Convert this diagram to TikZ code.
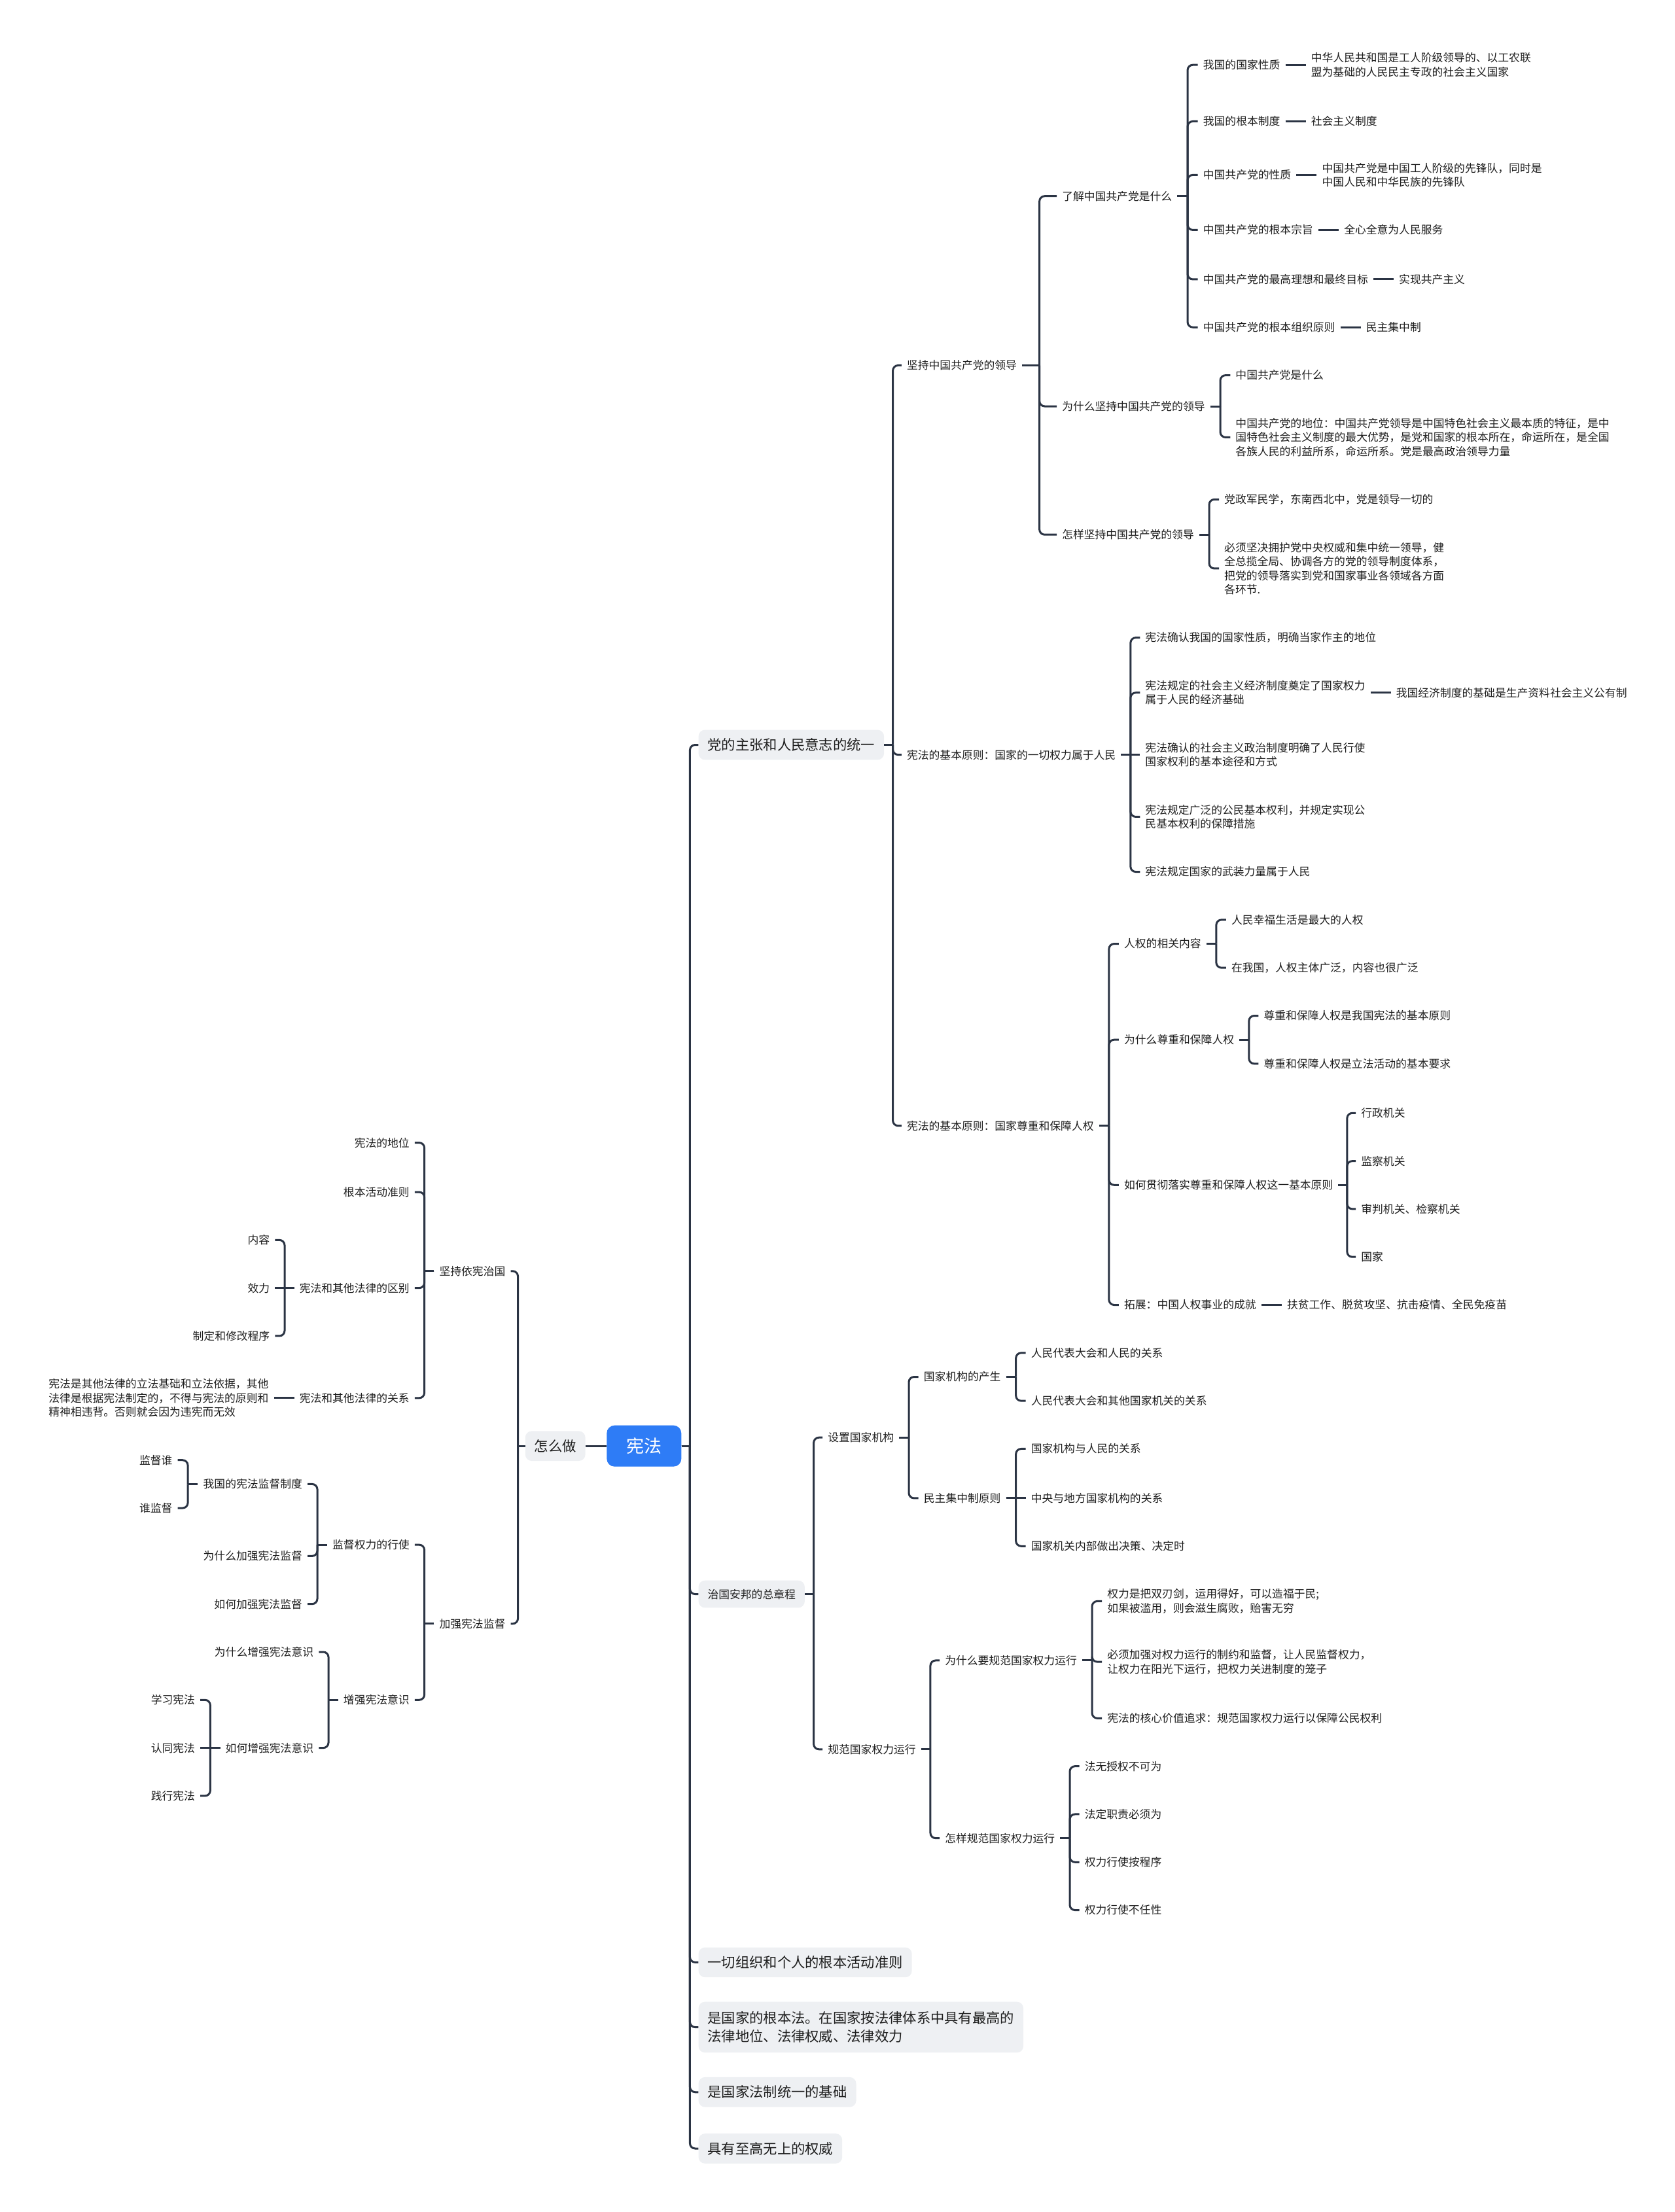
\documentclass[tikz,border=0pt]{standalone}
\usepackage{fontspec}
\usepackage{xcolor}
\setmainfont{Noto Sans CJK SC}
\usetikzlibrary{positioning}

\definecolor{linkc}{HTML}{2B3444}
\definecolor{boxc}{HTML}{EEF0F3}
\definecolor{rootc}{HTML}{2E7CF6}
\definecolor{inkc}{HTML}{1E1E1E}

% one link from the bar to a child: straight if level, else with a rounded bend
\newcommand\twig[2]{%
  \path (#1); \pgfgetlastxy{\bx}{\by}%
  \path (#2); \pgfgetlastxy{\cx}{\cy}%
  \pgfmathparse{abs(\by-\cy)<0.5 ? 1 : 0}%
  \ifnum\pgfmathresult=1
    \draw[link] (#1) -- (#2);
  \else
    \draw[link] (#1) |- (#2);
  \fi}
% children to the right / to the left of a node
\newcommand\kidsR[2]{%
  \foreach \k in {#2}{%
    \path (#1.east) -- (#1.east -| \k.west) coordinate[pos=.5] (bar);
    \draw[link] (#1.east) -- (bar);
    \twig{bar}{\k.west}
  }}
\newcommand\kidsL[2]{%
  \foreach \k in {#2}{%
    \path (#1.west) -- (#1.west -| \k.east) coordinate[pos=.5] (bar);
    \draw[link] (#1.west) -- (bar);
    \twig{bar}{\k.east}
  }}

\begin{document}
\begin{tikzpicture}[x=2.1565pt, y=-2.1565pt,
  txt/.style={font=\fontsize{16.8}{21.5}\selectfont, text=inkc, inner xsep=8pt, inner ysep=3pt, align=left},
  bigbox/.style={fill=boxc, rounded corners=10pt, font=\fontsize{21.3}{28}\selectfont, text=inkc, inner xsep=14pt, inner ysep=13pt, align=left},
  rootbox/.style={fill=rootc, rounded corners=12pt, font=\fontsize{27}{32}\selectfont, text=white, minimum width=114pt, minimum height=63pt},
  link/.style={draw=linkc, line width=3pt, rounded corners=8pt}]
     \useasboundingbox (0,0) rectangle (1187,1568);

     \node[rootbox] (root) at (456.5,1025) {宪法};
     \node[bigbox, anchor=east] (how) at (415,1025) {怎么做};

     % right side
     \node[bigbox, anchor=west] (unity) at (495,528) {党的主张和人民意志的统一};
     \node[bigbox, anchor=west, font=\fontsize{16.8}{21.5}\selectfont] (charter) at (495,1130) {治国安邦的总章程};
     \node[bigbox, anchor=west] (norm) at (495,1391) {一切组织和个人的根本活动准则};
     \node[bigbox, anchor=west, inner ysep=15pt] (basic) at (495,1437) {是国家的根本法。在国家按法律体系中具有最高的\\法律地位、法律权威、法律效力};
     \node[bigbox, anchor=west] (found) at (495,1483) {是国家法制统一的基础};
     \node[bigbox, anchor=west] (auth) at (495,1523) {具有至高无上的权威};

     \node[txt, anchor=west] (lead) at (639,259) {坚持中国共产党的领导};
     \node[txt, anchor=west] (power) at (639,535) {宪法的基本原则：国家的一切权力属于人民};
     \node[txt, anchor=west] (rights) at (639,798) {宪法的基本原则：国家尊重和保障人权};

     \node[txt, anchor=west] (what) at (749,139) {了解中国共产党是什么};
     \node[txt, anchor=west] (why) at (749,288) {为什么坚持中国共产党的领导};
     \node[txt, anchor=west] (how2) at (749,379) {怎样坚持中国共产党的领导};

     \node[txt, anchor=west] (w1) at (849,46) {我国的国家性质};
     \node[txt, anchor=west] (w2) at (849,86) {我国的根本制度};
     \node[txt, anchor=west] (w3) at (849,124) {中国共产党的性质};
     \node[txt, anchor=west] (w4) at (849,163) {中国共产党的根本宗旨};
     \node[txt, anchor=west] (w5) at (849,198) {中国共产党的最高理想和最终目标};
     \node[txt, anchor=west] (w6) at (849,232) {中国共产党的根本组织原则};
     \node[txt, right=31pt of w1] (w1a) {中华人民共和国是工人阶级领导的、以工农联\\盟为基础的人民民主专政的社会主义国家};
     \node[txt, right=31pt of w2] (w2a) {社会主义制度};
     \node[txt, right=31pt of w3] (w3a) {中国共产党是中国工人阶级的先锋队，同时是\\中国人民和中华民族的先锋队};
     \node[txt, right=31pt of w4] (w4a) {全心全意为人民服务};
     \node[txt, right=31pt of w5] (w5a) {实现共产主义};
     \node[txt, right=31pt of w6] (w6a) {民主集中制};

     \node[txt, anchor=west] (y1) at (872,266) {中国共产党是什么};
     \node[txt, anchor=west] (y2) at (872,310) {中国共产党的地位：中国共产党领导是中国特色社会主义最本质的特征，是中\\国特色社会主义制度的最大优势，是党和国家的根本所在，命运所在，是全国\\各族人民的利益所系，命运所系。党是最高政治领导力量};
     \node[txt, anchor=west] (h1) at (864,354) {党政军民学，东南西北中，党是领导一切的};
     \node[txt, anchor=west] (h2) at (864,403) {必须坚决拥护党中央权威和集中统一领导，健\\全总揽全局、协调各方的党的领导制度体系，\\把党的领导落实到党和国家事业各领域各方面\\各环节.};

     \node[txt, anchor=west] (p1) at (808,452) {宪法确认我国的国家性质，明确当家作主的地位};
     \node[txt, anchor=west] (p2) at (808,491) {宪法规定的社会主义经济制度奠定了国家权力\\属于人民的经济基础};
     \node[txt, right=31pt of p2] (p2a) {我国经济制度的基础是生产资料社会主义公有制};
     \node[txt, anchor=west] (p3) at (808,535) {宪法确认的社会主义政治制度明确了人民行使\\国家权利的基本途径和方式};
     \node[txt, anchor=west] (p4) at (808,579) {宪法规定广泛的公民基本权利，并规定实现公\\民基本权利的保障措施};
     \node[txt, anchor=west] (p5) at (808,618) {宪法规定国家的武装力量属于人民};

     \node[txt, anchor=west] (r1) at (793,669) {人权的相关内容};
     \node[txt, anchor=west] (r2) at (793,737) {为什么尊重和保障人权};
     \node[txt, anchor=west] (r3) at (793,840) {如何贯彻落实尊重和保障人权这一基本原则};
     \node[txt, anchor=west] (r4) at (793,925) {拓展：中国人权事业的成就};
     \node[txt, right=31pt of r4] (r4a) {扶贫工作、脱贫攻坚、抗击疫情、全民免疫苗};
     \node[txt, anchor=west] (r1a) at (869,652) {人民幸福生活是最大的人权};
     \node[txt, anchor=west] (r1b) at (869,686) {在我国，人权主体广泛，内容也很广泛};
     \node[txt, anchor=west] (r2a) at (892,720) {尊重和保障人权是我国宪法的基本原则};
     \node[txt, anchor=west] (r2b) at (892,754) {尊重和保障人权是立法活动的基本要求};
     \node[txt, anchor=west] (r3a) at (961,789) {行政机关};
     \node[txt, anchor=west] (r3b) at (961,823) {监察机关};
     \node[txt, anchor=west] (r3c) at (961,857) {审判机关、检察机关};
     \node[txt, anchor=west] (r3d) at (961,891) {国家};

     \node[txt, anchor=west] (s1) at (583,1019) {设置国家机构};
     \node[txt, anchor=west] (s2) at (583,1240) {规范国家权力运行};
     \node[txt, anchor=west] (s1a) at (651,976) {国家机构的产生};
     \node[txt, anchor=west] (s1b) at (651,1062) {民主集中制原则};
     \node[txt, anchor=west] (s1a1) at (727,959) {人民代表大会和人民的关系};
     \node[txt, anchor=west] (s1a2) at (727,993) {人民代表大会和其他国家机关的关系};
     \node[txt, anchor=west] (s1b1) at (727,1027) {国家机构与人民的关系};
     \node[txt, anchor=west] (s1b2) at (727,1062) {中央与地方国家机构的关系};
     \node[txt, anchor=west] (s1b3) at (727,1096) {国家机关内部做出决策、决定时};
     \node[txt, anchor=west] (s2a) at (666,1177) {为什么要规范国家权力运行};
     \node[txt, anchor=west] (s2b) at (666,1303) {怎样规范国家权力运行};
     \node[txt, anchor=west] (s2a1) at (781,1135) {权力是把双刃剑，运用得好，可以造福于民;\\如果被滥用，则会滋生腐败，贻害无穷};
     \node[txt, anchor=west] (s2a2) at (781,1178) {必须加强对权力运行的制约和监督，让人民监督权力，\\让权力在阳光下运行，把权力关进制度的笼子};
     \node[txt, anchor=west] (s2a3) at (781,1218) {宪法的核心价值追求：规范国家权力运行以保障公民权利};
     \node[txt, anchor=west] (s2b1) at (765,1252) {法无授权不可为};
     \node[txt, anchor=west] (s2b2) at (765,1286) {法定职责必须为};
     \node[txt, anchor=west] (s2b3) at (765,1320) {权力行使按程序};
     \node[txt, anchor=west] (s2b4) at (765,1354) {权力行使不任性};

     % left side
     \node[txt, anchor=east] (k1) at (362,901) {坚持依宪治国};
     \node[txt, anchor=east] (k2) at (362,1151) {加强宪法监督};
     \node[txt, anchor=east] (k1a) at (294,810) {宪法的地位};
     \node[txt, anchor=east] (k1b) at (294,845) {根本活动准则};
     \node[txt, anchor=east] (k1c) at (294,913) {宪法和其他法律的区别};
     \node[txt, anchor=east] (k1d) at (294,991) {宪法和其他法律的关系};
     \node[txt, anchor=east] (c1) at (195,879) {内容};
     \node[txt, anchor=east] (c2) at (195,913) {效力};
     \node[txt, anchor=east] (c3) at (195,947) {制定和修改程序};
     \node[txt, left=31pt of k1d] (k1d1) {宪法是其他法律的立法基础和立法依据，其他\\法律是根据宪法制定的，不得与宪法的原则和\\精神相违背。否则就会因为违宪而无效};
     \node[txt, anchor=east] (m1) at (294,1095) {监督权力的行使};
     \node[txt, anchor=east] (m2) at (294,1205) {增强宪法意识};
     \node[txt, anchor=east] (m1a) at (218,1052) {我国的宪法监督制度};
     \node[txt, anchor=east] (m1b) at (218,1103) {为什么加强宪法监督};
     \node[txt, anchor=east] (m1c) at (218,1137) {如何加强宪法监督};
     \node[txt, anchor=east] (m1a1) at (126,1035) {监督谁};
     \node[txt, anchor=east] (m1a2) at (126,1069) {谁监督};
     \node[txt, anchor=east] (m2a) at (226,1171) {为什么增强宪法意识};
     \node[txt, anchor=east] (m2b) at (226,1239) {如何增强宪法意识};
     \node[txt, anchor=east] (m2b1) at (142,1205) {学习宪法};
     \node[txt, anchor=east] (m2b2) at (142,1239) {认同宪法};
     \node[txt, anchor=east] (m2b3) at (142,1273) {践行宪法};

     % connectors
     \kidsR{root}{unity,charter,norm,basic,found,auth}
     \kidsL{root}{how}
     \kidsR{unity}{lead,power,rights}
     \kidsR{lead}{what,why,how2}
     \kidsR{what}{w1,w2,w3,w4,w5,w6}
     \foreach \p/\q in {w1/w1a,w2/w2a,w3/w3a,w4/w4a,w5/w5a,w6/w6a,p2/p2a,r4/r4a}{%
       \kidsR{\p}{\q}}
     \kidsR{why}{y1,y2}
     \kidsR{how2}{h1,h2}
     \kidsR{power}{p1,p2,p3,p4,p5}
     \kidsR{rights}{r1,r2,r3,r4}
     \kidsR{r1}{r1a,r1b}
     \kidsR{r2}{r2a,r2b}
     \kidsR{r3}{r3a,r3b,r3c,r3d}
     \kidsR{charter}{s1,s2}
     \kidsR{s1}{s1a,s1b}
     \kidsR{s1a}{s1a1,s1a2}
     \kidsR{s1b}{s1b1,s1b2,s1b3}
     \kidsR{s2}{s2a,s2b}
     \kidsR{s2a}{s2a1,s2a2,s2a3}
     \kidsR{s2b}{s2b1,s2b2,s2b3,s2b4}

     \kidsL{how}{k1,k2}
     \kidsL{k1}{k1a,k1b,k1c,k1d}
     \kidsL{k1c}{c1,c2,c3}
     \kidsL{k1d}{k1d1}
     \kidsL{k2}{m1,m2}
     \kidsL{m1}{m1a,m1b,m1c}
     \kidsL{m1a}{m1a1,m1a2}
     \kidsL{m2}{m2a,m2b}
     \kidsL{m2b}{m2b1,m2b2,m2b3}
     \end{tikzpicture}
\end{document}
